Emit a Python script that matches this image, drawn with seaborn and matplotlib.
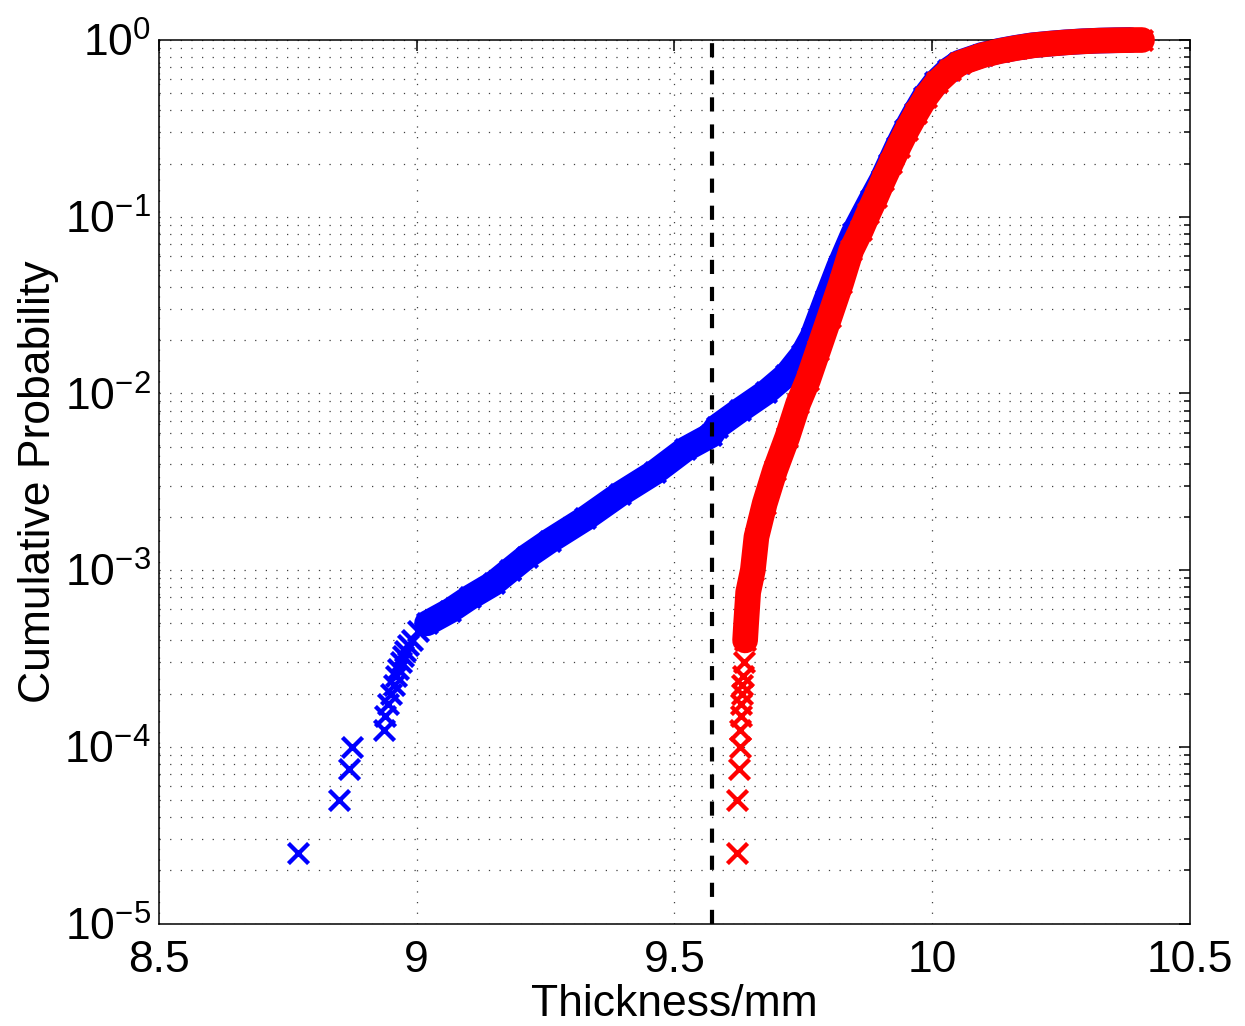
import numpy as np
import pandas as pd
import matplotlib
matplotlib.use("Agg")
import matplotlib.pyplot as plt
import seaborn as sns
from matplotlib.ticker import FixedLocator, FixedFormatter, LogLocator, NullFormatter

blue_thickness = [8.770, 8.849, 8.869, 8.874, 8.937, 8.939, 8.944, 8.950, 8.955, 8.960,
                  8.964, 8.969, 8.973, 8.977, 8.984, 8.991, 9.003, 9.020, 9.065, 9.103,
                  9.149, 9.181, 9.213, 9.259, 9.327, 9.394, 9.462, 9.521, 9.571, 9.582,
                  9.627, 9.678, 9.717, 9.748, 9.767, 9.794, 9.819, 9.847, 9.881, 9.902,
                  9.917, 9.932, 9.948, 9.966, 9.985, 10.006, 10.031, 10.051, 10.096, 10.129,
                  10.161, 10.193, 10.226, 10.258, 10.290, 10.323, 10.355, 10.384]
blue_probability = [2.5e-5, 5.0e-5, 7.5e-5, 1.0e-4, 1.25e-4, 1.5e-4, 1.75e-4, 2.0e-4, 2.25e-4, 2.5e-4,
                    2.75e-4, 3.0e-4, 3.25e-4, 3.5e-4, 3.75e-4, 4.0e-4, 4.5e-4, 5.0e-4, 5.9e-4, 7.0e-4,
                    8.4e-4, 1.0e-3, 1.19e-3, 1.47e-3, 1.96e-3, 2.69e-3, 3.58e-3, 4.83e-3, 5.8e-3, 6.46e-3,
                    8.03e-3, 1.016e-2, 1.27e-2, 1.65e-2, 2.08e-2, 3.37e-2, 5.2e-2, 8.04e-2, 0.124, 0.161,
                    0.200, 0.249, 0.309, 0.385, 0.478, 0.575, 0.676, 0.741, 0.822, 0.867,
                    0.902, 0.933, 0.953, 0.970, 0.983, 0.992, 0.997, 1.0]

red_thickness = [9.621, 9.621, 9.626, 9.627, 9.627, 9.629, 9.629, 9.631, 9.631, 9.633,
                 9.635, 9.637, 9.639, 9.643, 9.652, 9.659, 9.675, 9.695, 9.719, 9.740,
                 9.759, 9.779, 9.801, 9.823, 9.843, 9.862, 9.876, 9.891, 9.905, 9.920,
                 9.935, 9.951, 9.969, 9.988, 10.009, 10.035, 10.054, 10.099, 10.132, 10.164,
                 10.196, 10.229, 10.261, 10.293, 10.326, 10.358, 10.390, 10.407]
red_probability = [2.5e-5, 5.0e-5, 7.5e-5, 1.0e-4, 1.25e-4, 1.5e-4, 1.75e-4, 2.0e-4, 2.25e-4, 2.5e-4,
                   3.0e-4, 4.0e-4, 5.0e-4, 7.5e-4, 1.0e-3, 1.54e-3, 2.38e-3, 3.67e-3, 5.67e-3, 8.77e-3,
                   1.19e-2, 1.76e-2, 2.71e-2, 4.19e-2, 6.47e-2, 8.4e-2, 0.1044, 0.1297, 0.161, 0.2003,
                   0.249, 0.3093, 0.385, 0.4775, 0.575, 0.676, 0.741, 0.822, 0.867, 0.902,
                   0.933, 0.953, 0.970, 0.983, 0.992, 0.997, 0.9995, 1.0]

threshold_thickness = 9.573

x_ticks = [8.5, 9.0, 9.5, 10.0, 10.5]
x_tick_labels = ["8.5", "9", "9.5", "10", "10.5"]
y_ticks = [1e-5, 1e-4, 1e-3, 1e-2, 1e-1, 1e0]
y_tick_labels = [r"$10^{-5}$", r"$10^{-4}$", r"$10^{-3}$", r"$10^{-2}$", r"$10^{-1}$", r"$10^{0}$"]
x_label = "Thickness/mm"
y_label = "Cumulative Probability"

# ---- style ----
sns.set_theme(style="white")
plt.rcParams["font.family"] = ["Liberation Sans", "DejaVu Sans"]
plt.rcParams["mathtext.fontset"] = "custom"
plt.rcParams["mathtext.rm"] = "Liberation Sans"
plt.rcParams["mathtext.it"] = "Liberation Sans:italic"
plt.rcParams["mathtext.bf"] = "Liberation Sans:bold"
plt.rcParams["mathtext.default"] = "regular"
plt.rcParams["axes.unicode_minus"] = True
for key in ["text.color", "axes.labelcolor", "xtick.color", "ytick.color", "axes.edgecolor"]:
    plt.rcParams[key] = "black"

fig = plt.figure(figsize=(12.45, 10.26), dpi=100)
ax = fig.add_axes([0.1277, 0.0999, 0.8281, 0.8611])
ax.set_yscale("log")
ax.set_xlim(8.5, 10.5)
ax.set_ylim(1e-5, 1.0)

blue = (0, 0, 1)
red = (1, 0, 0)

df_blue = pd.DataFrame({"thickness": blue_thickness, "probability": blue_probability})
df_red = pd.DataFrame({"thickness": red_thickness, "probability": red_probability})

# dense parts: overlapping markers form a solid band
band_kw = dict(sort=False, estimator=None, linewidth=18.5, solid_capstyle="round",
               solid_joinstyle="round", legend=False, ax=ax, clip_on=False)
mark_kw = dict(marker="x", s=210, linewidth=3.1, legend=False, ax=ax, clip_on=False)

sns.lineplot(data=df_blue[df_blue["probability"] >= 5e-4], x="thickness", y="probability",
             color=blue, zorder=2, **band_kw)
sns.scatterplot(data=df_blue, x="thickness", y="probability", color=blue, zorder=3, **mark_kw)
sns.lineplot(data=df_red[df_red["probability"] >= 4e-4], x="thickness", y="probability",
             color=red, zorder=4, **band_kw)
sns.scatterplot(data=df_red, x="thickness", y="probability", color=red, zorder=5, **mark_kw)

ax.axvline(threshold_thickness, color="black", linewidth=3, dashes=(3.4, 3.1), zorder=6)

# ---- axes, ticks, grid ----
ax.set_xlim(8.5, 10.5)
ax.set_ylim(1e-5, 1.0)
ax.xaxis.set_major_locator(FixedLocator(x_ticks))
ax.xaxis.set_major_formatter(FixedFormatter(x_tick_labels))
ax.xaxis.set_minor_locator(FixedLocator([]))
ax.yaxis.set_major_locator(FixedLocator(y_ticks))
ax.yaxis.set_major_formatter(FixedFormatter(y_tick_labels))
ax.yaxis.set_minor_locator(LogLocator(base=10, subs=np.arange(2, 10)))
ax.yaxis.set_minor_formatter(NullFormatter())

grid_kw = dict(color="0.25", linewidth=0.9, linestyle=(0, (1, 7.5)))
ax.grid(True, which="major", axis="x", **grid_kw)
ax.grid(True, which="both", axis="y", **grid_kw)
ax.set_axisbelow(True)

ax.tick_params(which="both", direction="in", top=True, right=True, color="black", width=1.1)
ax.tick_params(which="major", length=8, labelsize=32)
ax.tick_params(axis="x", which="major", pad=12)
ax.tick_params(axis="y", which="major", pad=6)
ax.tick_params(which="minor", length=4.5)
for s in ax.spines.values():
    s.set_color("black")
    s.set_linewidth(1.1)

ax.set_xlabel(x_label, fontsize=32, labelpad=2)
ax.set_ylabel(y_label, fontsize=32, labelpad=4)

fig.savefig("out.png", dpi=100)
